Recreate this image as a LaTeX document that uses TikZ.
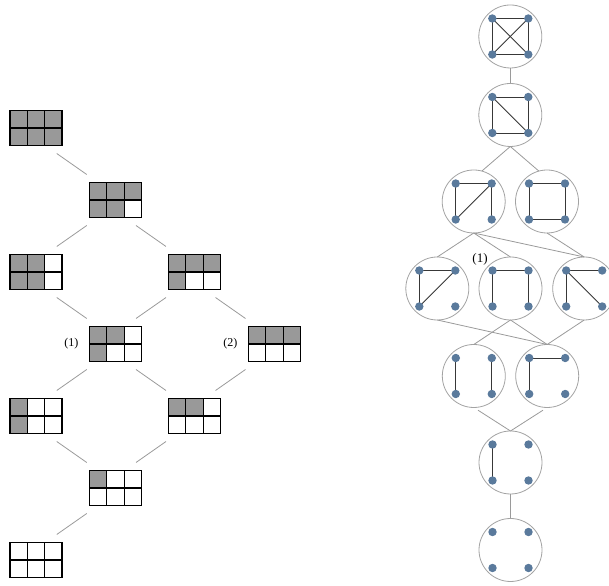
\documentclass[tikz,border=0pt]{standalone}
\usepackage{fontspec}
\setmainfont{Liberation Serif}
\usetikzlibrary{calc,positioning}
\definecolor{cell}{HTML}{999999}
\definecolor{linkgrey}{HTML}{9A9A9A}
\definecolor{ring}{HTML}{A3A3A3}
\definecolor{vertex}{HTML}{5A7A9C}
\definecolor{edge}{HTML}{383838}

\tikzset{
  ybox/.style={minimum width=52pt,minimum height=35pt,inner sep=0pt,outer sep=0pt},
  cellline/.style={line width=1.1pt},
  hasse/.style={draw=linkgrey,line width=0.8pt},
  gcirc/.style={circle,draw=ring,line width=0.8pt,fill=white,minimum size=63pt,inner sep=0pt,outer sep=0pt},
  gedge/.style={draw=edge,line width=0.9pt},
  lbl/.style={inner sep=0pt,font=\fontsize{12}{14}\selectfont}
}

% Young diagram in a 3x2 frame: name, x, y, cells in top row, cells in bottom row
\newcommand{\ydiag}[5]{%
  \node[ybox] (#1) at (#2,#3) {};
  \ifnum#4>0 \fill[cell] (#1.north west) rectangle ++({#4*52pt/3},-17.5pt);\fi
  \ifnum#5>0 \fill[cell] (#1.west) rectangle ++({#5*52pt/3},-17.5pt);\fi
  \draw[cellline] (#1.north west) rectangle (#1.south east)
    (#1.west) -- (#1.east)
    ($(#1.north west)!1/3!(#1.north east)$) -- ($(#1.south west)!1/3!(#1.south east)$)
    ($(#1.north west)!2/3!(#1.north east)$) -- ($(#1.south west)!2/3!(#1.south east)$);
}
% short grey links in the gap between two diagrams
\newcommand{\hasseR}[2]{\draw[hasse] ($(#1.south east)!.5!(#2.north west)+(-19pt,10.5pt)$) -- ++(30pt,-21pt);}
\newcommand{\hasseL}[2]{\draw[hasse] ($(#1.south west)!.5!(#2.north east)+(11pt,10.5pt)$) -- ++(-30pt,-21pt);}

% graph on four vertices inside a circle
\newcommand{\gcircle}[3]{%
  \node[gcirc] (#1) at (#2,#3) {};
  \path (#1.center) ++(-18pt,18pt) coordinate (#1-tl)
        (#1.center) ++(18pt,18pt) coordinate (#1-tr)
        (#1.center) ++(-18pt,-18pt) coordinate (#1-bl)
        (#1.center) ++(18pt,-18pt) coordinate (#1-br);
}
\newcommand{\gedges}[2]{\foreach \a/\b in {#2} \draw[gedge] (#1-\a) -- (#1-\b);}
\newcommand{\gdots}[1]{\foreach \p in {tl,tr,bl,br} \fill[vertex] (#1-\p) circle (4.2pt);}

\begin{document}
\begin{tikzpicture}[x=1pt,y=1pt]
  \useasboundingbox (0,0) rectangle (609,585);

  % Left: Young diagrams
  \ydiag{b33}{36}{457}{3}{3}
  \ydiag{b32}{115.5}{385}{3}{2}
  \ydiag{b22}{36}{313}{2}{2}
  \ydiag{b31}{194.5}{313}{3}{1}
  \ydiag{b21}{115.5}{241}{2}{1}
  \ydiag{b30}{274.5}{241}{3}{0}
  \ydiag{b11}{36}{169}{1}{1}
  \ydiag{b20}{194.5}{169}{2}{0}
  \ydiag{b10}{115.5}{97}{1}{0}
  \ydiag{b00}{36}{25}{0}{0}

  \hasseR{b33}{b32}
  \hasseL{b32}{b22}
  \hasseR{b32}{b31}
  \hasseR{b22}{b21}
  \hasseL{b31}{b21}
  \hasseR{b31}{b30}
  \hasseL{b21}{b11}
  \hasseR{b21}{b20}
  \hasseL{b30}{b20}
  \hasseR{b11}{b10}
  \hasseL{b20}{b10}
  \hasseL{b10}{b00}

  \node[lbl,left=11pt of b21] (l1) {(1)};
  \node[lbl,left=11pt of b30] (l2) {(2)};

  % Right: graphs
  \gcircle{c1}{510.3}{548.5}
  \gcircle{c2}{510.3}{470}
  \gcircle{c3}{473.7}{383.5}
  \gcircle{c4}{547}{383.5}
  \gcircle{c5}{437.3}{296.5}
  \gcircle{c6}{510.5}{296.5}
  \gcircle{c7}{584.2}{296.5}
  \gcircle{c8}{473.8}{209}
  \gcircle{c9}{547.2}{209}
  \gcircle{c10}{510.5}{122.5}
  \gcircle{c11}{510.5}{35}

  \draw[hasse] (c1.south) -- (c2.north);
  \draw[hasse] (c2.south) -- (c3.75);
  \draw[hasse] (c2.south) -- (c4.105);
  \draw[hasse] (c3.south) -- (c5.north);
  \draw[hasse] (c3.south) -- (c6.north);
  \draw[hasse] (c3.south) -- (c7.north);
  \draw[hasse] (c4.south) -- (c7.north);
  \draw[hasse] (c5.south) -- (c9.north);
  \draw[hasse] (c6.south) -- (c8.north);
  \draw[hasse] (c6.south) -- (c9.north);
  \draw[hasse] (c7.south) -- (c9.north);
  \draw[hasse,shorten <=5pt] (c8.south) -- (c10.north);
  \draw[hasse,shorten <=5pt] (c9.south) -- (c10.north);
  \draw[hasse] (c10.south) -- (c11.north);

  \gedges{c1}{tl/tr,bl/br,tl/bl,tr/br,tl/br,tr/bl}
  \gedges{c2}{tl/tr,tl/bl,bl/br,tr/br,tl/br}
  \gedges{c3}{tl/tr,tl/bl,tr/br,tr/bl}
  \gedges{c4}{tl/tr,tr/br,br/bl,bl/tl}
  \gedges{c5}{tl/tr,tl/bl,tr/bl}
  \gedges{c6}{tl/tr,tl/bl,tr/br}
  \gedges{c7}{tl/tr,tl/bl,tl/br}
  \gedges{c8}{tl/bl,tr/br}
  \gedges{c9}{tl/tr,tl/bl}
  \gedges{c10}{tl/bl}

  \foreach \g in {c1,c2,c3,c4,c5,c6,c7,c8,c9,c10,c11} {\gdots{\g}}

  \node[lbl,font=\fontsize{13}{15}\selectfont] (l3) at (480,326) {(1)};
\end{tikzpicture}
\end{document}
